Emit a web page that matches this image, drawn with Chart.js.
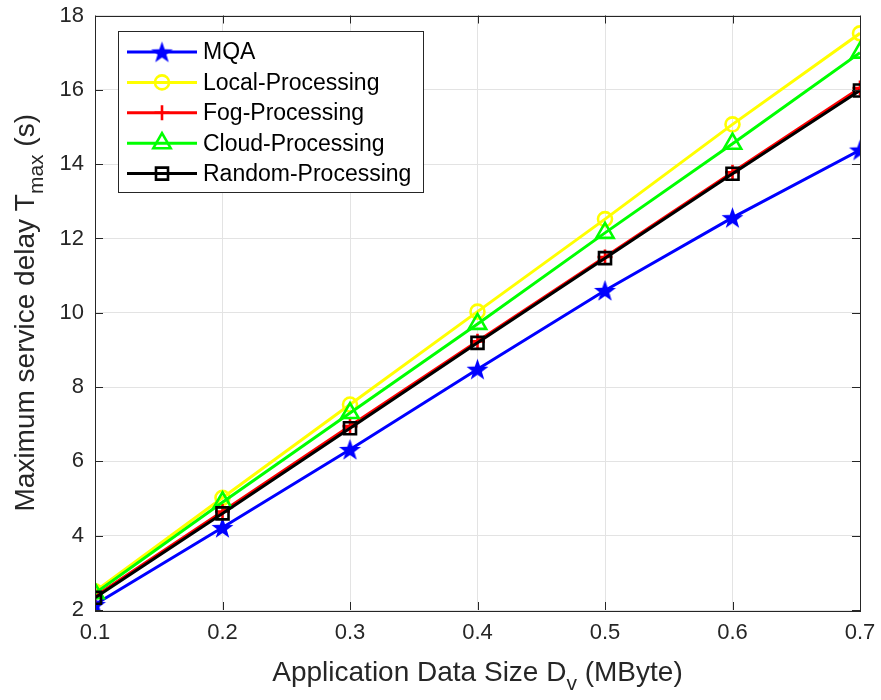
<!DOCTYPE html>
<html lang="en">
<head>
  <meta charset="utf-8"/>
  <title>Maximum service delay vs application data size</title>
  <script src="https://cdn.jsdelivr.net/npm/chart.js@4/dist/chart.umd.min.js"></script>
  <style>
    html, body { margin: 0; padding: 0; background: #fff; }
    #wrap { width: 881px; height: 700px; }
  </style>
</head>
<body>
<div id="wrap"><canvas id="chart" width="881" height="700"></canvas></div>

<script>
// data
const dataSizes = [0.1, 0.2, 0.3, 0.4, 0.5, 0.6, 0.7];
const mqa    = [2.15, 4.22, 6.32, 8.48, 10.60, 12.56, 14.38];
const local  = [2.50, 5.02, 7.53, 10.03, 12.52, 15.07, 17.52];
const fog    = [2.37, 4.65, 6.95, 9.23, 11.50, 13.78, 16.05];
const cloud  = [2.45, 4.90, 7.30, 9.70, 12.15, 14.55, 17.00];
const random = [2.33, 4.60, 6.89, 9.19, 11.47, 13.74, 15.98];
const seriesNames = ['MQA', 'Local-Processing', 'Fog-Processing', 'Cloud-Processing', 'Random-Processing'];
const yTicks = [2, 4, 6, 8, 10, 12, 14, 16, 18];

const FONT = '"Liberation Sans", Arial, Helvetica, sans-serif';
const AX = '#262626';

// filled five-point star marker
function makeStar(color, R) {
  const c = document.createElement('canvas');
  const s = Math.ceil(R * 2 + 2);
  c.width = s; c.height = s;
  const g = c.getContext('2d');
  const r = R * 0.4;
  g.beginPath();
  for (let i = 0; i < 10; i++) {
    const a = -Math.PI / 2 + i * Math.PI / 5;
    const rr = i % 2 ? r : R;
    const px = s / 2 + rr * Math.cos(a), py = s / 2 + 1 + rr * Math.sin(a);
    i ? g.lineTo(px, py) : g.moveTo(px, py);
  }
  g.closePath();
  g.fillStyle = color;
  g.fill();
  return c;
}
const starImg = makeStar('#0000ff', 11.5);

const pts = arr => arr.map((v, i) => ({ x: dataSizes[i], y: v }));

const styles = [
  { color: '#0000ff', pointStyle: starImg, radius: 11, order: 5 },
  { color: '#ffff00', pointStyle: 'circle', radius: 7, order: 4 },
  { color: '#ff0000', pointStyle: 'cross', radius: 7.5, order: 3 },
  { color: '#00ff00', pointStyle: 'triangle', radius: 10, order: 2 },
  { color: '#000000', pointStyle: 'rect', radius: 8.5, order: 1 }
];
const allSeries = [mqa, local, fog, cloud, random];

const datasets = allSeries.map((arr, i) => ({
  label: seriesNames[i],
  data: pts(arr),
  borderColor: styles[i].color,
  backgroundColor: 'rgba(0,0,0,0)',
  borderWidth: 3,
  pointStyle: styles[i].pointStyle,
  pointRadius: styles[i].radius,
  pointBorderColor: styles[i].color,
  pointBackgroundColor: 'rgba(0,0,0,0)',
  pointBorderWidth: 2.6,
  order: styles[i].order,
  tension: 0
}));

// text with one subscript part
function drawSubText(ctx, parts, cx, y) {
  const big = '28px ' + FONT, small = '21px ' + FONT;
  let total = 0;
  const widths = parts.map(p => {
    ctx.font = p.sub ? small : big;
    const w = ctx.measureText(p.t).width;
    total += w;
    return w;
  });
  let x = cx - total / 2;
  ctx.textBaseline = 'alphabetic';
  ctx.textAlign = 'left';
  ctx.fillStyle = AX;
  parts.forEach((p, i) => {
    ctx.font = p.sub ? small : big;
    ctx.fillText(p.t, x, p.sub ? y + 9 : y);
    x += widths[i];
  });
}

const framePlugin = {
  id: 'frame',
  afterDraw(chart) {
    const ctx = chart.ctx, a = chart.chartArea;
    const xs = chart.scales.x, ys = chart.scales.y;
    ctx.save();
    ctx.strokeStyle = AX;
    ctx.lineWidth = 1;
    ctx.strokeRect(Math.round(a.left) + 0.5, Math.round(a.top) + 0.5,
      Math.round(a.right - a.left), Math.round(a.bottom - a.top));
    ctx.beginPath();
    const tl = 8;
    dataSizes.forEach(v => {
      const px = Math.round(xs.getPixelForValue(v)) + 0.5;
      ctx.moveTo(px, a.bottom); ctx.lineTo(px, a.bottom - tl);
      ctx.moveTo(px, a.top); ctx.lineTo(px, a.top + tl);
    });
    yTicks.forEach(v => {
      const py = Math.round(ys.getPixelForValue(v)) + 0.5;
      ctx.moveTo(a.left, py); ctx.lineTo(a.left + tl, py);
      ctx.moveTo(a.right, py); ctx.lineTo(a.right - tl, py);
    });
    ctx.stroke();

    // axis titles
    drawSubText(ctx, [{ t: 'Application Data Size D' }, { t: 'v', sub: true }, { t: ' (MByte)' }],
      (a.left + a.right) / 2, 681);
    ctx.translate(34, (a.top + a.bottom) / 2);
    ctx.rotate(-Math.PI / 2);
    drawSubText(ctx, [{ t: 'Maximum service delay T' }, { t: 'max', sub: true }, { t: ' (s)' }], 0, 0);
    ctx.restore();

    // legend box
    ctx.save();
    const bx = 118.5, by = 31.5, bw = 305, bh = 161;
    ctx.fillStyle = '#ffffff';
    ctx.fillRect(bx, by, bw, bh);
    ctx.strokeStyle = AX;
    ctx.lineWidth = 1;
    ctx.strokeRect(bx, by, bw, bh);
    chart.data.datasets.forEach((ds, i) => {
      const y = 52 + i * 30.4;
      ctx.strokeStyle = ds.borderColor;
      ctx.lineWidth = 3;
      ctx.beginPath();
      ctx.moveTo(127, y); ctx.lineTo(197, y);
      ctx.stroke();
      ctx.lineWidth = ds.pointBorderWidth;
      ctx.fillStyle = 'rgba(0,0,0,0)';
      Chart.helpers.drawPoint(ctx, {
        pointStyle: ds.pointStyle, radius: ds.pointRadius, rotation: 0,
        borderWidth: ds.pointBorderWidth
      }, 162, y);
      ctx.fillStyle = '#000000';
      ctx.font = '23px ' + FONT;
      ctx.textBaseline = 'middle';
      ctx.textAlign = 'left';
      ctx.fillText(ds.label, 203, y + 1);
    });
    ctx.restore();
  }
};

const gridColor = '#e3e3e3';

new Chart(document.getElementById('chart'), {
  type: 'line',
  data: { datasets },
  plugins: [framePlugin],
  options: {
    responsive: false,
    animation: false,
    layout: { padding: { top: 15.5, right: 21, left: 0, bottom: 0 } },
    plugins: { legend: { display: false }, tooltip: { enabled: false } },
    scales: {
      x: {
        type: 'linear',
        min: 0.1, max: 0.7,
        afterBuildTicks: s => { s.ticks = dataSizes.map(v => ({ value: v })); },
        afterFit: s => { s.height = 90; s.paddingLeft = 0; s.paddingRight = 0; },
        ticks: {
          color: AX, padding: 10,
          font: { family: FONT, size: 22 },
          callback: v => Number(v).toFixed(1),
          maxRotation: 0
        },
        grid: { color: gridColor, drawTicks: false },
        border: { display: false }
      },
      y: {
        min: 2, max: 18,
        afterBuildTicks: s => { s.ticks = yTicks.map(v => ({ value: v })); },
        afterFit: s => { s.width = 95; s.paddingTop = 0; s.paddingBottom = 0; },
        ticks: {
          color: AX, padding: 11,
          font: { family: FONT, size: 22 }
        },
        grid: { color: gridColor, drawTicks: false },
        border: { display: false }
      }
    }
  }
});
</script>
</body>
</html>
